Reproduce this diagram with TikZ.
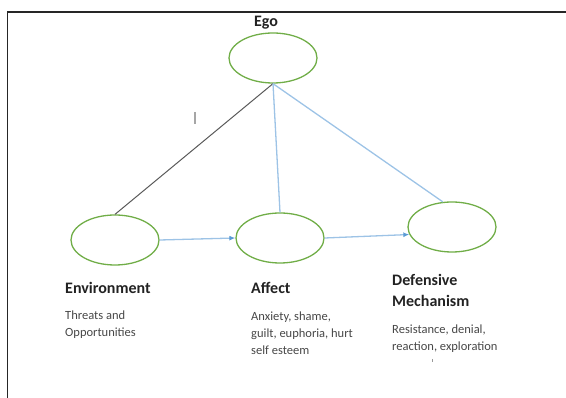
\documentclass[tikz,border=0pt]{standalone}
\usepackage{fontspec}
\setmainfont{Carlito}
\usetikzlibrary{shapes.geometric,arrows.meta}
\definecolor{egreen}{HTML}{70AD47}
\definecolor{lblue}{HTML}{9DC3E6}
\definecolor{tipblue}{HTML}{5B9BD5}
\definecolor{dgray}{HTML}{595959}
\definecolor{headc}{HTML}{222222}
\definecolor{bodyc}{HTML}{474747}
\begin{document}
\begin{tikzpicture}[x=1pt,y=-1pt,
  circ/.style={ellipse,draw=egreen,line width=1.3pt,minimum width=88pt,minimum height=50pt,inner sep=0pt},
  head/.style={anchor=base west,inner sep=0pt,text=headc,align=left,font=\fontsize{16}{21}\selectfont\bfseries},
  body/.style={anchor=base west,inner sep=0pt,text=bodyc,align=left,font=\fontsize{12.5}{17}\selectfont},
  bline/.style={draw=lblue,line width=1.3pt},
  barrow/.style={bline,-{Latex[length=6pt,width=5pt,color=tipblue]}},
  gline/.style={draw=dgray,line width=1pt}]
\useasboundingbox (0,0) rectangle (566,398);
% frame
\coordinate (fb) at (7.5,398);
\coordinate (ftl) at (7.5,12);
\coordinate (ftr) at (566,12);
\draw[line width=1.6pt,color=black!85] (fb) -- (ftl) -- (ftr);
% ellipses
\node[circ] (ego) at (273,58) {};
\node[circ] (env) at (115,240) {};
\node[circ] (aff) at (280,238) {};
\node[circ] (def) at (452,227) {};
% connectors
\draw[gline] (ego.south) -- (env.north);
\draw[bline] (ego.south) -- (aff.north);
\draw[bline] (ego.south) -- (def.110);
\draw[barrow] (env.east) -- (aff.west);
\draw[barrow] (aff.east) -- (def.190);
% small marks
\coordinate (m1a) at (195,112);
\coordinate (m1b) at (195,124);
\draw[line width=1.6pt,color=black!35] (m1a) -- (m1b);
\coordinate (m2a) at (432,359);
\coordinate (m2b) at (432,362);
\draw[line width=0.8pt,color=black!40] (m2a) -- (m2b);
% labels
\node[head,anchor=base] (egol) at (266,27) {Ego};
\node[head] (envl) at (65,294) {Environment};
\node[body] (envb) at (65,337) {Threats and\\Opportunities};
\node[head] (affl) at (251,294) {Affect};
\node[body] (affb) at (251,355) {Anxiety, shame,\\guilt, euphoria, hurt\\self esteem};
\node[head] (defl) at (392,307) {Defensive\\Mechanism};
\node[body] (defb) at (392,351) {Resistance, denial,\\reaction, exploration};
\end{tikzpicture}
\end{document}
